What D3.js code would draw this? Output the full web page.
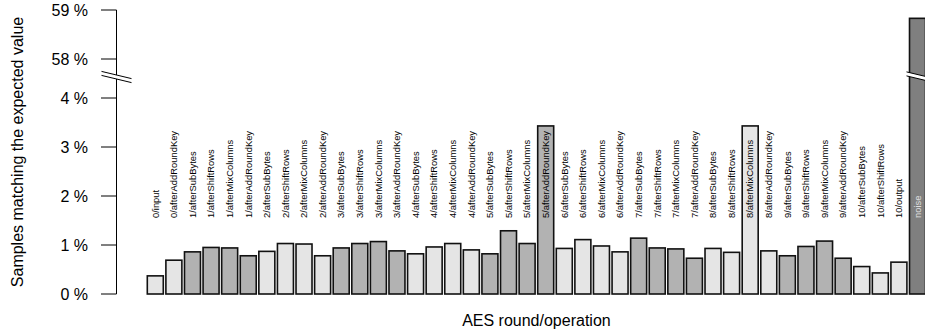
<!DOCTYPE html>
<html><head><meta charset="utf-8">
<script src="https://cdn.jsdelivr.net/npm/d3@7"></script>
<style>
html,body{margin:0;padding:0;background:#fff;}
text{font-family:"Liberation Sans",Arial,Helvetica,sans-serif;}
</style></head>
<body>
<svg id="chart" width="925" height="335"></svg>
<script>
const categories = [
"0/input","0/afterAddRoundKey",
"1/afterSubBytes","1/afterShiftRows","1/afterMixColumns","1/afterAddRoundKey",
"2/afterSubBytes","2/afterShiftRows","2/afterMixColumns","2/afterAddRoundKey",
"3/afterSubBytes","3/afterShiftRows","3/afterMixColumns","3/afterAddRoundKey",
"4/afterSubBytes","4/afterShiftRows","4/afterMixColumns","4/afterAddRoundKey",
"5/afterSubBytes","5/afterShiftRows","5/afterMixColumns","5/afterAddRoundKey",
"6/afterSubBytes","6/afterShiftRows","6/afterMixColumns","6/afterAddRoundKey",
"7/afterSubBytes","7/afterShiftRows","7/afterMixColumns","7/afterAddRoundKey",
"8/afterSubBytes","8/afterShiftRows","8/afterMixColumns","8/afterAddRoundKey",
"9/afterSubBytes","9/afterShiftRows","9/afterMixColumns","9/afterAddRoundKey",
"10/afterSubBytes","10/afterShiftRows","10/output","noise"];
const values = [
0.37,0.69,
0.86,0.95,0.94,0.78,
0.87,1.03,1.02,0.78,
0.94,1.03,1.07,0.88,
0.82,0.96,1.03,0.90,
0.82,1.29,1.03,3.43,
0.93,1.11,0.98,0.86,
1.14,0.94,0.92,0.73,
0.93,0.85,3.43,0.88,
0.78,0.97,1.08,0.73,
0.56,0.43,0.65,58.83];
const lowTicks = [0,1,2,3,4];
const highTicks = [58,59];
const xTitle = "AES round/operation";
const yTitle = "Samples matching the expected value";

const svg = d3.select("#chart");
const x = d3.scaleBand().domain(categories).range([147.3, 925.5]).paddingInner(0.14).paddingOuter(0);
const yLow = d3.scaleLinear().domain([0,4]).range([294,98]);
const yHigh = d3.scaleLinear().domain([58,59]).range([59,10]);
const y = v => v <= 4 ? yLow(v) : yHigh(v);
const breakY = 77;
const axisX = 116.5;

function fillOf(c){
  if (c === "noise") return "#7f7f7f";
  const r = parseInt(c.split("/")[0],10);
  return r % 2 === 0 ? "#e5e5e5" : "#b2b2b2";
}

// bars
svg.append("g").selectAll("rect").data(categories).join("rect")
  .attr("x", d => x(d)).attr("width", x.bandwidth())
  .attr("y", (d,i) => y(values[i])).attr("height", (d,i) => yLow(0) - y(values[i]))
  .attr("fill", d => fillOf(d)).attr("stroke", "#111").attr("stroke-width", 1.6);

// labels
svg.append("g").selectAll("text").data(categories).join("text")
  .attr("transform", d => `translate(${x(d)+x.bandwidth()/2+3.3},218) rotate(-90)`)
  .attr("font-size", 9.4)
  .attr("fill", d => d === "noise" ? "#e0e0e0" : "#000")
  .text(d => d);

// axis
const ax = svg.append("g");
ax.append("line").attr("x1",axisX).attr("x2",axisX).attr("y1",yHigh(59)).attr("y2",yLow(0)).attr("stroke","#000").attr("stroke-width",1);
const ticks = lowTicks.map(t => ({t, y: yLow(t)})).concat(highTicks.map(t => ({t, y: yHigh(t)})));
ax.selectAll("line.tk").data(ticks).join("line").attr("class","tk")
  .attr("x1",101).attr("x2",axisX).attr("y1",d=>d.y).attr("y2",d=>d.y).attr("stroke","#000").attr("stroke-width",1);
ax.selectAll("text").data(ticks).join("text")
  .attr("x",88).attr("y",d=>d.y).attr("dy","0.36em").attr("text-anchor","end")
  .attr("font-size",16).text(d => d.t + " %");

// break marks
function breakMark(cx, halfW){
  const dy = 0.24*halfW, gap = 4;
  const g = svg.append("g");
  g.append("polygon")
    .attr("points", `${cx-halfW},${breakY-dy-gap/2} ${cx+halfW},${breakY+dy-gap/2} ${cx+halfW},${breakY+dy+gap/2} ${cx-halfW},${breakY-dy+gap/2}`)
    .attr("fill","#fff");
  [-gap/2, gap/2].forEach(o => g.append("line")
    .attr("x1",cx-halfW).attr("y1",breakY-dy+o).attr("x2",cx+halfW).attr("y2",breakY+dy+o)
    .attr("stroke","#000").attr("stroke-width",1));
}
breakMark(axisX, 15);
breakMark(x("noise")+x.bandwidth()/2 + 2, 13);

// titles
svg.append("text").attr("x", (147.3+925.5)/2).attr("y", 326).attr("text-anchor","middle").attr("font-size",16).text(xTitle);
svg.append("text").attr("transform","translate(23,152) rotate(-90)").attr("text-anchor","middle").attr("font-size",16).text(yTitle);
</script>
</body></html>
